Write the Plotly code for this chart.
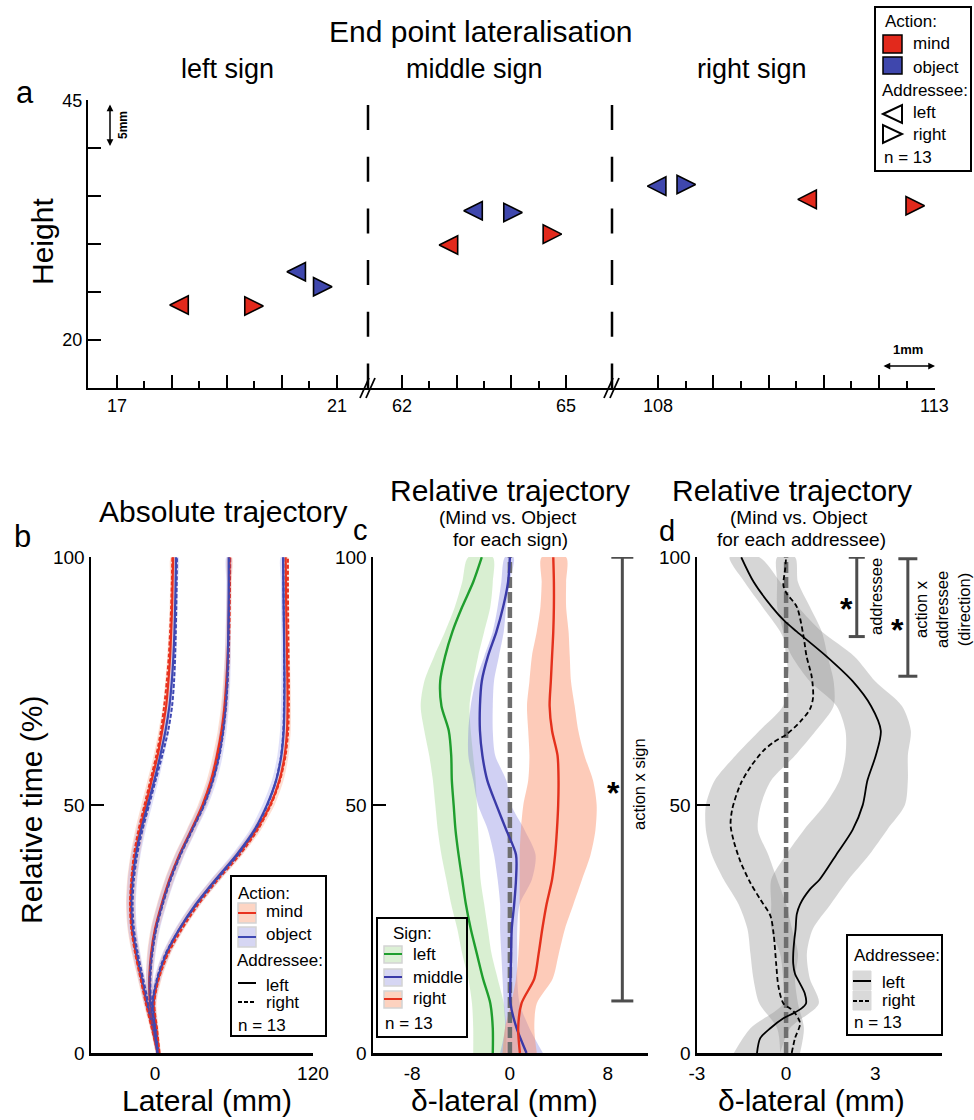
import plotly.graph_objects as go

W, H = 974, 1120
FONT = "Liberation Sans, Arial, sans-serif"


def px(x):
    return x / W


def py(y):
    return 1 - y / H


# ------------------------------------------------------------------ DATA
# Panel a: end point (tip of the triangle marker), lateral (mm) and height (mm)
a_sign_labels = ["left sign", "middle sign", "right sign"]
a_mind_left_x = [17.96, 62.68, 110.53]
a_mind_left_y = [23.65, 29.90, 34.66]
a_mind_right_x = [19.66, 64.92, 112.82]
a_mind_right_y = [23.54, 31.04, 33.99]
a_obj_left_x = [20.09, 63.13, 107.81]
a_obj_left_y = [27.11, 33.47, 36.04]
a_obj_right_x = [20.91, 64.20, 108.68]
a_obj_right_y = [25.55, 33.30, 36.22]
a_x_ticks = [[17, 18, 19, 20, 21], [62, 63, 64, 65], [108, 109, 110, 111, 112, 113]]
a_x_ticktext = [["17", "", "", "", "21"], ["62", "", "", "65"], ["108", "", "", "", "", "113"]]
a_x_minor = [[17.5, 18.5, 19.5, 20.5], [62.5, 63.5, 64.5], [108.5, 109.5, 110.5, 111.5, 112.5]]
a_y_ticks = [20, 25, 30, 35, 40, 45]
a_y_ticktext = ["20", "", "", "", "", "45"]

# Panels b/c: relative time (%)
t_pct = [0, 5, 10, 15, 20, 25, 30, 35, 40, 45, 50, 55, 60, 65, 70, 75, 80, 85, 90, 95, 100]

# Panel b: absolute lateral trajectory (mm)
b_left_mind_l = [2, -2, -6.5, -10.5, -14.5, -17.5, -18.5, -17.5, -15, -11.5, -7, -2.5, 2, 5.5, 8.5, 10.2, 11.5, 12.3, 13, 13.4, 13.8]
b_left_mind_r = [2, -2.5, -7, -11, -15, -18, -19, -18, -16, -12.5, -8, -3.5, 1, 4.5, 7, 9, 10.5, 11.5, 12.3, 12.8, 13.2]
b_left_obj_l = [2.5, -1.5, -6, -10, -14, -17, -18, -17, -14.5, -10.5, -5.5, -0.5, 4, 8, 11, 12.8, 14, 14.8, 15.3, 15.7, 16]
b_left_obj_r = [3, -1, -5, -9, -13, -16, -17, -16, -13.5, -9.5, -4.5, 0.5, 5.5, 10, 13, 14.5, 15.3, 15.8, 16.2, 16.5, 16.7]

b_mid_mind_l = [2, -1.2, -3.8, -4.3, -3, 0, 5, 11, 18.5, 27.5, 36, 42.5, 47, 50.5, 52.8, 54.2, 55.2, 55.8, 56.2, 56.5, 56.7]
b_mid_mind_r = [2.5, -0.8, -3.3, -3.8, -2.5, 0.5, 5.5, 11.5, 19, 28, 36.5, 43, 47.8, 51.2, 53.5, 55, 56, 56.5, 56.8, 57, 57.2]
b_mid_obj_l = [2, -1, -3.5, -4, -2.5, 0.5, 5.5, 11.5, 19, 28, 37, 43.8, 48.5, 51.6, 53.6, 54.8, 55.4, 55.7, 55.9, 56, 56]
b_mid_obj_r = [2.5, -0.5, -3, -3.5, -2, 1, 6, 12, 19.5, 28.5, 37.5, 44.2, 49, 52, 54, 55.2, 55.8, 56.1, 56.3, 56.4, 56.5]

b_right_mind_l = [3, 1, -1, 2.5, 9, 19, 31.5, 46.5, 63, 77, 87.5, 94.5, 98.5, 100.3, 100.7, 100.6, 100.3, 100, 99.7, 99.5, 99.3]
b_right_mind_r = [3.5, 1.5, -0.5, 3, 10, 20.5, 33, 48, 64.5, 78, 88, 95, 99.2, 101.2, 101.7, 101.7, 101.5, 101.3, 101.1, 101, 101]
b_right_obj_l = [2.5, 0.5, -1.5, 2, 8.5, 18.5, 31, 46, 62, 75.5, 85, 92, 96, 97.8, 98.3, 98.4, 98.2, 98, 97.7, 97.5, 97.3]
b_right_obj_r = [2, 0, -2, 1.5, 8, 18.5, 31.5, 47, 63, 76, 85.5, 92, 95.8, 97.5, 98, 98.2, 98.1, 98, 97.8, 97.6, 97.5]

b_band_hw = [1.5, 1.8, 2.2, 2.6, 3.0, 3.3, 3.5, 3.6, 3.6, 3.5, 3.4, 3.2, 3.0, 2.8, 2.6, 2.4, 2.2, 2.0, 1.9, 1.8, 1.8]

# Panel c: mind minus object, per sign (mm)
c_left = [-1.4, -1.4, -1.6, -2.2, -2.7, -3.2, -3.6, -3.9, -4.2, -4.45, -4.6, -4.75, -4.8, -5.0, -5.6, -5.7, -5.3, -4.7, -3.9, -3.0, -2.3]
c_left_lo = [-3.0, -3.0, -3.1, -3.4, -3.9, -4.3, -4.8, -5.2, -5.6, -5.9, -6.1, -6.3, -6.6, -7.0, -7.3, -7.0, -6.2, -5.3, -4.5, -3.9, -3.4]
c_left_hi = [-0.3, -0.3, -0.5, -1.0, -1.5, -1.8, -2.1, -2.4, -2.5, -2.6, -2.7, -2.8, -3.0, -3.2, -3.3, -3.0, -2.6, -2.1, -1.6, -1.4, -1.4]
c_mid = [1.36, 0.55, 0.05, 0.05, 0.1, 0.15, 0.35, 0.5, 0.5, -0.3, -1.1, -1.85, -2.25, -2.45, -2.45, -2.3, -1.8, -1.1, -0.55, -0.15, 0.0]
c_mid_lo = [-0.8, -0.4, -0.5, -0.6, -0.7, -0.8, -0.8, -1.0, -1.3, -1.8, -2.6, -3.0, -3.4, -3.4, -3.2, -2.8, -2.1, -1.4, -1.0, -0.7, -0.4]
c_mid_hi = [2.7, 1.6, 0.8, 0.6, 0.6, 0.6, 0.8, 1.8, 2.1, 1.2, 0.1, -0.3, -1.2, -1.4, -1.4, -1.3, -0.9, -0.5, -0.3, 0.0, 0.3]
c_right = [0.82, 0.68, 0.95, 2.0, 2.35, 2.65, 3.0, 3.45, 3.7, 3.85, 3.95, 3.98, 3.9, 3.45, 3.25, 3.35, 3.45, 3.55, 3.6, 3.6, 3.55]
c_right_lo = [-0.6, -0.4, 0.1, 0.5, 0.7, 0.8, 0.8, 0.8, 0.8, 0.9, 1.1, 1.5, 1.6, 1.5, 1.4, 1.6, 1.8, 2.2, 2.5, 2.6, 2.6]
c_right_hi = [2.2, 2.0, 2.2, 3.5, 4.0, 4.5, 5.2, 5.9, 6.6, 7.0, 7.1, 6.8, 6.1, 5.6, 5.3, 5.0, 4.9, 4.8, 4.6, 4.6, 4.6]
c_sig_x = 9.2
c_sig_t = [10.5, 100]

# Panel d: mind minus object, per addressee (mm)
d_left_t = [0, 3, 5, 7, 8, 9, 10, 12, 14, 16, 18, 20, 23, 25, 28, 30, 33, 35, 40, 45, 50, 55, 60, 65, 70, 75, 80, 85, 87, 90, 95, 100]
d_left_x = [-0.98, -0.87, -0.53, -0.09, 0.24, 0.52, 0.67, 0.63, 0.47, 0.30, 0.24, 0.24, 0.28, 0.32, 0.36, 0.47, 0.80, 1.13, 1.69, 2.24, 2.58, 2.74, 3.02, 3.19, 2.86, 2.24, 1.36, 0.36, -0.03, -0.48, -1.09, -1.51]
d_right_t = [0, 3, 6, 8.5, 10, 13.5, 17.7, 24, 27.7, 31, 34.3, 38.5, 42.7, 46, 49.3, 54.3, 57.7, 61, 62.7, 64.3, 66.8, 69.3, 71.8, 76, 80, 84.3, 90, 92.7, 94.3, 97.7, 100]
d_right_x = [0.19, 0.30, 0.47, 0.24, -0.09, -0.26, -0.33, -0.42, -0.53, -0.87, -1.20, -1.53, -1.76, -1.87, -1.81, -1.53, -1.20, -0.76, -0.42, 0.02, 0.47, 0.80, 0.91, 0.86, 0.69, 0.58, 0.36, 0.02, -0.09, -0.03, 0.00]
d_left_lo = [-1.76, -1.2, -0.1, -0.1, -0.2, -0.5, -0.5, -0.5, 0.0, 0.6, 1.3, 1.8, 2.0, 2.0, 1.7, 0.8, 0.2, -0.2, -0.8, -1.4, -1.9]
d_left_hi = [-0.2, 0.13, 1.1, 0.8, 0.7, 0.9, 1.5, 2.1, 2.8, 3.4, 4.0, 4.1, 4.1, 4.2, 3.9, 3.0, 2.3, 1.2, 0.4, -0.2, -0.9]
d_right_lo = [-0.2, -0.3, -0.9, -1.1, -1.2, -1.3, -1.6, -2.1, -2.5, -2.7, -2.7, -2.4, -1.7, -0.9, -0.1, 0.1, 0.0, -0.1, -0.3, -0.3, -0.3]
d_right_hi = [0.47, 0.6, 0.4, 0.3, 0.4, 0.2, 0.0, -0.3, -0.6, -0.95, -0.85, -0.5, 0.3, 1.0, 1.6, 1.6, 1.4, 1.2, 0.8, 0.4, 0.3]
d_sig1_x, d_sig1_t = 2.38, [84, 100]
d_sig2_x, d_sig2_t = 4.10, [76, 99.7]

# ------------------------------------------------------------------ STYLE
RED_MARK = "#e2291c"
BLUE_MARK = "#3f47ad"
RED_L = "#e8321f"
BLUE_L = "#3e48b2"
MIND_BAND = "rgba(250,150,110,0.30)"
OBJ_BAND = "rgba(140,140,230,0.26)"
GREEN_L = "#1f9e2e"
GREEN_BAND = "rgba(150,210,130,0.36)"
MID_L = "#3a3aa8"
MID_BAND = "rgba(120,120,220,0.35)"
RIGHT_L = "#e4301c"
RIGHT_BAND = "rgba(250,140,100,0.45)"
GRAY_BAND = "rgba(140,140,140,0.36)"
ZERO_C = "#6e6e6e"
SIG_C = "#4d4d4d"

traces = []


def band(t, lo, hi, color, xa, ya, smooth=0.8):
    return go.Scatter(x=list(lo) + list(hi)[::-1], y=list(t) + list(t)[::-1], mode="lines",
                      fill="toself", fillcolor=color,
                      line=dict(width=0, shape="spline", smoothing=smooth),
                      hoverinfo="skip", showlegend=False, xaxis=xa, yaxis=ya)


def curve(x, t, color, width, dash, xa, ya):
    return go.Scatter(x=x, y=t, mode="lines", line=dict(color=color, width=width, dash=dash,
                      shape="spline", smoothing=0.8), showlegend=False, xaxis=xa, yaxis=ya,
                      hoverinfo="skip")


# ---- panel a markers
seg_axes = ["x", "x2", "x3"]
for i, xa in enumerate(seg_axes):
    traces.append(go.Scatter(
        x=[a_mind_left_x[i], a_mind_right_x[i]], y=[a_mind_left_y[i], a_mind_right_y[i]],
        mode="markers", marker=dict(symbol=["arrow-left", "arrow-right"], size=18.5, color=RED_MARK,
                                    line=dict(color="black", width=1.6)),
        xaxis=xa, yaxis="y", showlegend=False, cliponaxis=False, hoverinfo="skip"))
    traces.append(go.Scatter(
        x=[a_obj_left_x[i], a_obj_right_x[i]], y=[a_obj_left_y[i], a_obj_right_y[i]],
        mode="markers", marker=dict(symbol=["arrow-left", "arrow-right"], size=18.5, color=BLUE_MARK,
                                    line=dict(color="black", width=1.6)),
        xaxis=xa, yaxis="y", showlegend=False, cliponaxis=False, hoverinfo="skip"))

# ---- panel b
groups = [
    (b_left_mind_l, b_left_mind_r, b_left_obj_l, b_left_obj_r),
    (b_mid_mind_l, b_mid_mind_r, b_mid_obj_l, b_mid_obj_r),
    (b_right_mind_l, b_right_mind_r, b_right_obj_l, b_right_obj_r),
]
for ml, mr, ol, orr in groups:
    traces.append(band(t_pct, [v - h for v, h in zip(ml, b_band_hw)], [v + h for v, h in zip(ml, b_band_hw)],
                       MIND_BAND, "x4", "y4"))
    traces.append(band(t_pct, [v - h for v, h in zip(ol, b_band_hw)], [v + h for v, h in zip(ol, b_band_hw)],
                       OBJ_BAND, "x4", "y4"))
for ml, mr, ol, orr in groups:
    traces.append(curve(ml, t_pct, RED_L, 2.2, "solid", "x4", "y4"))
    traces.append(curve(ol, t_pct, BLUE_L, 2.2, "solid", "x4", "y4"))
    traces.append(curve(mr, t_pct, RED_L, 2.0, "4px,2px", "x4", "y4"))
    traces.append(curve(orr, t_pct, BLUE_L, 2.0, "4px,2px", "x4", "y4"))

# ---- panel c
traces.append(band(t_pct, c_left_lo, c_left_hi, GREEN_BAND, "x5", "y5"))
traces.append(band(t_pct, c_mid_lo, c_mid_hi, MID_BAND, "x5", "y5"))
traces.append(band(t_pct, c_right_lo, c_right_hi, RIGHT_BAND, "x5", "y5"))
traces.append(go.Scatter(x=[0, 0], y=[0, 100], mode="lines", line=dict(color=ZERO_C, width=4.5, dash="11px,4px"),
                         showlegend=False, xaxis="x5", yaxis="y5", hoverinfo="skip"))
traces.append(curve(c_left, t_pct, GREEN_L, 2.4, "solid", "x5", "y5"))
traces.append(curve(c_mid, t_pct, MID_L, 2.4, "solid", "x5", "y5"))
traces.append(curve(c_right, t_pct, RIGHT_L, 2.4, "solid", "x5", "y5"))

# ---- panel d
traces.append(band(t_pct, d_left_lo, d_left_hi, GRAY_BAND, "x6", "y6"))
traces.append(band(t_pct, d_right_lo, d_right_hi, GRAY_BAND, "x6", "y6"))
traces.append(go.Scatter(x=[0, 0], y=[0, 100], mode="lines", line=dict(color=ZERO_C, width=4.5, dash="11px,4px"),
                         showlegend=False, xaxis="x6", yaxis="y6", hoverinfo="skip"))
traces.append(curve(d_left_x, d_left_t, "black", 1.8, "solid", "x6", "y6"))
traces.append(curve(d_right_x, d_right_t, "black", 1.8, "5px,3px", "x6", "y6"))

fig = go.Figure(traces)

# ------------------------------------------------------------------ AXES
TICKFONT = dict(family=FONT, size=19, color="black")


def ax(**kw):
    d = dict(showgrid=False, zeroline=False, showline=True, linecolor="black", linewidth=2,
             tickfont=TICKFONT, ticks="", fixedrange=True, automargin=False)
    d.update(kw)
    return d


a_domains = [[px(88), px(368)], [px(368), px(612)], [px(612), px(935)]]
a_ranges = [[16.473, 21.564], [61.378, 65.841], [107.17, 113.01]]
names = ["xaxis", "xaxis2", "xaxis3"]
for k in range(3):
    fig.layout[names[k]] = ax(domain=a_domains[k], range=a_ranges[k], anchor="y",
                              tickmode="array", tickvals=a_x_ticks[k], ticktext=a_x_ticktext[k],
                              ticks="inside", ticklen=13, tickwidth=2, tickcolor="black",
                              tickfont=dict(family=FONT, size=18, color="black"),
                              minor=dict(tickvals=a_x_minor[k], ticks="inside", ticklen=7,
                                         tickwidth=2, tickcolor="black", showgrid=False))
fig.layout.yaxis = ax(domain=[py(388), py(100)], range=[15, 45.02], anchor="x",
                      tickmode="array", tickvals=a_y_ticks, ticktext=a_y_ticktext,
                      ticks="inside", ticklen=13, tickwidth=2, tickcolor="black",
                      tickfont=dict(family=FONT, size=18, color="black"))

YDOM = [py(1053), py(557)]
ydef = dict(domain=YDOM, range=[0, 100.05], tickmode="array", tickvals=[0, 50, 100],
            ticktext=["0", "50", "100"], ticks="inside", ticklen=13, tickwidth=2.5, tickcolor="black",
            linewidth=2.5)
fig.layout.xaxis4 = ax(domain=[px(91), px(313)], range=[-48.6, 120.05], anchor="y4",
                       tickmode="array", tickvals=[0, 120], ticktext=["0", "120"], linewidth=2.5,
                       ticklabelstandoff=2)
fig.layout.yaxis4 = ax(anchor="x4", **ydef)
fig.layout.xaxis5 = ax(domain=[px(373), px(648)], range=[-11.2, 11.3], anchor="y5",
                       tickmode="array", tickvals=[-8, 0, 8], ticktext=["-8", "0", "8"], linewidth=2.5,
                       ticklabelstandoff=2)
fig.layout.yaxis5 = ax(anchor="x5", **ydef)
fig.layout.xaxis6 = ax(domain=[px(697), px(942)], range=[-3, 5.25], anchor="y6",
                       tickmode="array", tickvals=[-3, 0, 3], ticktext=["-3", "0", "3"], linewidth=2.5,
                       ticklabelstandoff=2)
fig.layout.yaxis6 = ax(anchor="x6", **ydef)

# ------------------------------------------------------------------ ANNOTATIONS / SHAPES
ann = []
shapes = []


def T(x, y, s, size, angle=0, xanchor="center", bold=False):
    ann.append(dict(x=px(x), y=py(y), xref="paper", yref="paper",
                    text=("<b>%s</b>" % s) if bold else s, showarrow=False, textangle=angle,
                    xanchor=xanchor, yanchor="middle",
                    font=dict(family=FONT, size=size, color="black")))


def L(x0, y0, x1, y1, color="black", width=2, dash=None):
    shapes.append(dict(type="line", xref="paper", yref="paper", x0=px(x0), y0=py(y0),
                       x1=px(x1), y1=py(y1), line=dict(color=color, width=width, dash=dash)))


def RECT(x0, y0, x1, y1, fill="rgba(0,0,0,0)", lc="black", lw=2):
    shapes.append(dict(type="rect", xref="paper", yref="paper", x0=px(x0), y0=py(y0),
                       x1=px(x1), y1=py(y1), fillcolor=fill, line=dict(color=lc, width=lw)))


def TRI(pts):
    p = "M" + " L".join("%f,%f" % (px(a), py(b)) for a, b in pts) + " Z"
    shapes.append(dict(type="path", xref="paper", yref="paper", path=p, fillcolor="white",
                       line=dict(color="black", width=2)))


# panel a texts
T(481, 31, "End point lateralisation", 30)
T(227, 69, a_sign_labels[0], 27)
T(474, 69, a_sign_labels[1], 27)
T(752, 69, a_sign_labels[2], 27)
T(25, 92, "a", 31)
T(42, 242, "Height", 30, angle=-90)
# scale bars
ann.append(dict(x=px(110), y=py(146), xref="paper", yref="paper", ax=0, ay=-43, text="",
                showarrow=True, arrowhead=2, startarrowhead=2, arrowside="end+start", arrowsize=0.9,
                arrowwidth=1.5, arrowcolor="black"))
T(123, 125, "5mm", 12, angle=-90, bold=True)
ann.append(dict(x=px(935), y=py(366), xref="paper", yref="paper", ax=-53, ay=0, text="",
                showarrow=True, arrowhead=2, startarrowhead=2, arrowside="end+start", arrowsize=0.9,
                arrowwidth=1.5, arrowcolor="black"))
T(908, 349, "1mm", 13, bold=True)
# dashed separators and axis breaks
for cx in (368, 612):
    L(cx, 105, cx, 388, width=2.5, dash="25px,26.7px")
    L(cx - 8, 398, cx + 1, 378, width=1.8)
    L(cx - 2, 398, cx + 7, 378, width=1.8)
# panel a legend
RECT(875, 7, 971, 171)
T(883, 21, "Action:", 17, xanchor="left")
RECT(883, 35, 902, 53, fill=RED_MARK, lw=1.5)
T(911, 44, "mind", 17, xanchor="left")
RECT(883, 57, 902, 74, fill=BLUE_MARK, lw=1.5)
T(911, 67, "object", 17, xanchor="left")
T(880, 90, "Addressee:", 17, xanchor="left")
TRI([(883, 114), (902, 105), (902, 123)])
T(911, 113, "left", 17, xanchor="left")
TRI([(883, 125), (883, 143), (902, 134)])
T(911, 134, "right", 17, xanchor="left")
T(882, 158, "n = 13", 17, xanchor="left")

# panel b texts
T(22, 536, "b", 31)
T(223, 511, "Absolute trajectory", 30)
T(31, 810, "Relative time (%)", 30, angle=-90)
T(207, 1100, "Lateral (mm)", 30)
# panel b legend
RECT(231, 876, 326, 1036)
T(236, 893, "Action:", 17, xanchor="left")
RECT(238, 903, 256, 923, fill="#fdd5c4", lc="#d4d4d4", lw=1.5)
L(238, 913, 256, 913, color=RED_L, width=2)
T(264, 911, "mind", 17, xanchor="left")
RECT(238, 927, 256, 947, fill="#d6d6f3", lc="#d4d4d4", lw=1.5)
L(238, 937, 256, 937, color=BLUE_L, width=2)
T(264, 934, "object", 17, xanchor="left")
T(235, 960, "Addressee:", 17, xanchor="left")
L(238, 983, 256, 983, width=2)
T(264, 985, "left", 17, xanchor="left")
L(238, 1002, 256, 1002, width=2, dash="4px,2px")
T(264, 1002, "right", 17, xanchor="left")
T(236, 1025, "n = 13", 17, xanchor="left")

# panel c texts
T(360, 530, "c", 29)
T(510, 490, "Relative trajectory", 30)
T(508, 517, "(Mind vs. Object", 19)
T(510, 539, "for each sign)", 19)
T(504, 1100, "δ-lateral (mm)", 30)
T(639, 784, "action x sign", 16.5, angle=-90)
T(613, 793, "*", 32, bold=True)
for tv in c_sig_t:
    shapes.append(dict(type="line", xref="x5", yref="y5", x0=c_sig_x - 0.9, x1=c_sig_x + 0.9, y0=tv, y1=tv,
                       line=dict(color=SIG_C, width=3)))
shapes.append(dict(type="line", xref="x5", yref="y5", x0=c_sig_x, x1=c_sig_x, y0=c_sig_t[0], y1=c_sig_t[1],
                   line=dict(color=SIG_C, width=3)))
# panel c legend
RECT(377, 918, 467, 1037)
T(412, 933, "Sign:", 17)
RECT(384, 946, 402, 963, fill="#dcf0d5", lc="#d4d4d4", lw=1.5)
L(384, 954, 402, 954, color=GREEN_L, width=2)
T(411, 954, "left", 17, xanchor="left")
RECT(384, 969, 402, 986, fill="#d6d6f3", lc="#d4d4d4", lw=1.5)
L(384, 977, 402, 977, color=MID_L, width=2)
T(411, 977, "middle", 17, xanchor="left")
RECT(384, 991, 402, 1008, fill="#fdd2bf", lc="#d4d4d4", lw=1.5)
L(384, 999, 402, 999, color=RIGHT_L, width=2)
T(411, 998, "right", 17, xanchor="left")
T(383, 1023, "n = 13", 17, xanchor="left")

# panel d texts
T(667, 531, "d", 29)
T(792, 490, "Relative trajectory", 30)
T(799, 517, "(Mind vs. Object", 19)
T(801, 539, "for each addressee)", 19)
T(811, 1100, "δ-lateral (mm)", 30)
T(876, 597, "addressee", 16.5, angle=-90)
T(846, 609, "*", 32, bold=True)
T(942, 610, "action x<br>addressee<br>(direction)", 16.5, angle=-90)
T(897, 630, "*", 32, bold=True)
for sx, st, hw in ((d_sig1_x, d_sig1_t, 0.27), (d_sig2_x, d_sig2_t, 0.32)):
    for tv in st:
        shapes.append(dict(type="line", xref="x6", yref="y6", x0=sx - hw, x1=sx + hw, y0=tv, y1=tv,
                           line=dict(color=SIG_C, width=3)))
    shapes.append(dict(type="line", xref="x6", yref="y6", x0=sx, x1=sx, y0=st[0], y1=st[1],
                       line=dict(color=SIG_C, width=3)))
# panel d legend
RECT(847, 935, 942, 1035)
T(852, 955, "Addressee:", 17, xanchor="left")
RECT(853, 971, 871, 990, fill="#d9d9d9", lc="#d9d9d9", lw=1)
RECT(853, 991, 871, 1010, fill="#d9d9d9", lc="#d9d9d9", lw=1)
L(853, 981, 871, 981, width=2)
T(880, 982, "left", 17, xanchor="left")
L(853, 1001, 871, 1001, width=2, dash="4px,2px")
T(880, 1000, "right", 17, xanchor="left")
T(852, 1022, "n = 13", 17, xanchor="left")

fig.update_layout(template="none", width=W, height=H,
                  margin=dict(l=0, r=0, t=0, b=0, pad=0, autoexpand=False),
                  paper_bgcolor="white", plot_bgcolor="rgba(0,0,0,0)",
                  showlegend=False, annotations=ann, shapes=shapes, hovermode=False,
                  font=dict(family=FONT, color="black"))

fig.write_html("out.html", config={"displayModeBar": False, "staticPlot": True},
               post_script="document.body.style.margin='0';document.body.style.padding='0';"
                           "document.body.style.overflow='hidden';")
